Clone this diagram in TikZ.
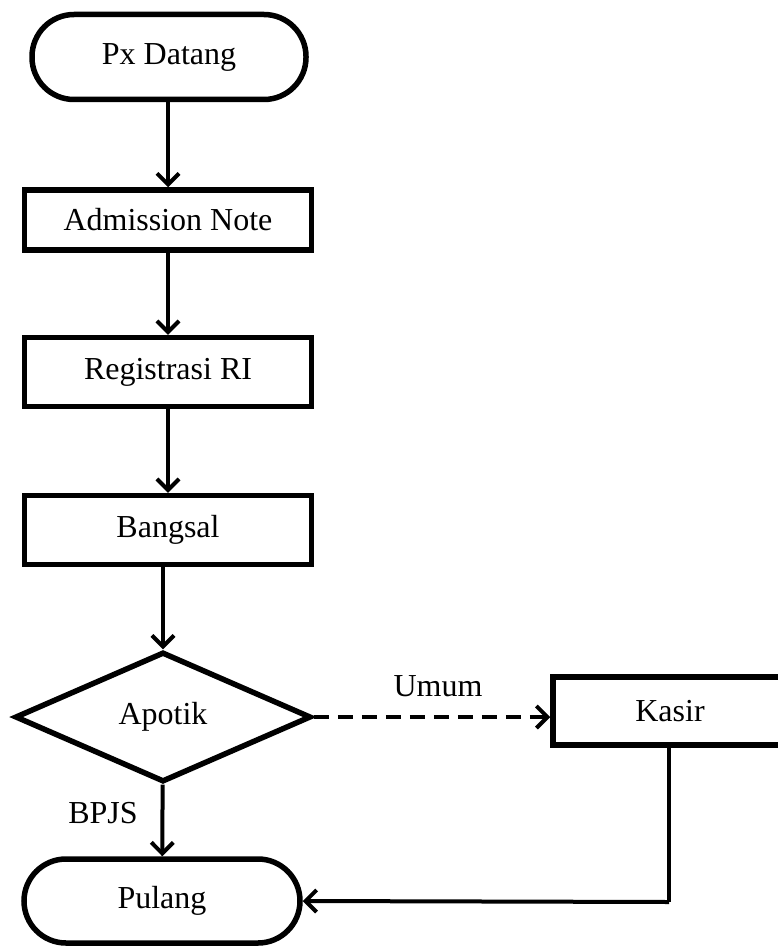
\documentclass[tikz,border=0pt]{standalone}
\usepackage{fontspec}
\setmainfont{Liberation Serif}
\usetikzlibrary{shapes.geometric,arrows.meta}
\begin{document}
\begin{tikzpicture}[x=1pt,y=-1pt,
  every node/.style={font=\fontsize{32}{36}\selectfont},
  procbox/.style={draw,line width=5.5pt,minimum width=287pt,minimum height=60pt,inner sep=0pt},
  termbox/.style={draw,line width=5.5pt,rounded corners=42pt,inner sep=0pt},
  decbox/.style={draw,diamond,line width=5.5pt,minimum width=296pt,minimum height=130pt,inner sep=0pt},
  flow/.style={line width=4pt,-{Straight Barb[length=11pt,width=22pt,line width=4pt]}},
  lbl/.style={inner sep=0pt}]
\useasboundingbox (0,0) rectangle (777,947);
\node[termbox,minimum width=274pt,minimum height=85pt] (pd) at (169,57) {Px Datang};
\node[procbox] (an) at (168,220) {Admission Note};
\node[procbox,minimum height=69pt] (reg) at (168,372) {Registrasi RI};
\node[procbox,minimum height=69pt] (bang) at (168,530) {Bangsal};
\node[decbox] (ap) at (163,717) {Apotik};
\node[termbox,minimum width=276pt,minimum height=84pt] (pul) at (162,901) {Pulang};
\node[procbox,minimum width=234pt,minimum height=68pt] (kas) at (670,711) {Kasir};
\node[lbl] (umum) at (438,686) {Umum};
\node[lbl] (bpjs) at (103,813) {BPJS};
\coordinate (corner) at (669,902);

\draw[flow] (pd.south -| an.north) -- (an.north);
\draw[flow] (an) -- (reg);
\draw[flow] (reg) -- (bang);
\draw[flow] (bang.south -| ap.north) -- (ap.north);
\draw[flow] (ap) -- (pul);
\draw[flow,dash pattern=on 15pt off 9pt] (ap.east) -- (kas.west |- ap.east);
\draw[line width=4pt] (kas.south -| corner) -- (corner);
\draw[flow] (corner) -- (pul.east);
\end{tikzpicture}
\end{document}
